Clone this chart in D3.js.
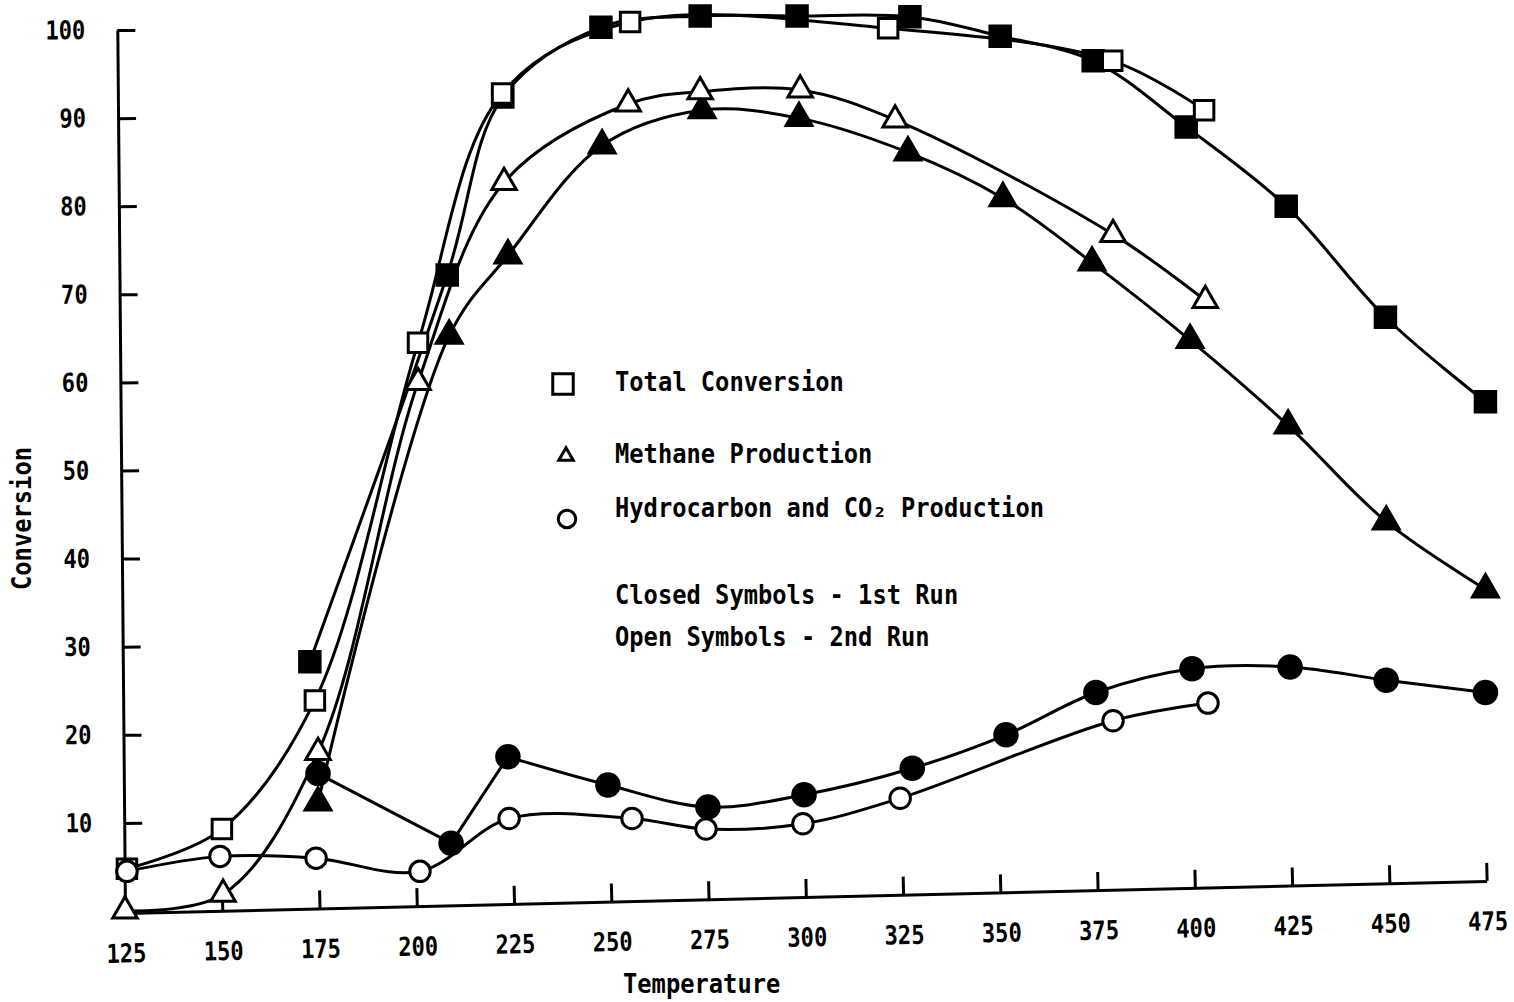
<!DOCTYPE html>
<html>
<head>
<meta charset="utf-8">
<script src="https://cdn.jsdelivr.net/npm/d3@7"></script>
<style>
	body { margin: 0; background: #fff; }
	text { font-family: "DejaVu Sans Mono", monospace; font-weight: bold; fill: #000; }
</style>
</head>
<body>
<div id="chart"></div>
<script>
// [temperature, conversion] pairs
// closed symbols = 1st run, open symbols = 2nd run
const totalRun1 = [[172.5, 28.3], [207.8, 72.2], [222.1, 92.4], [247.3, 100.3], [272.8, 101.6], [297.7, 101.6], [326.7, 101.5], [349.9, 99.3], [373.8, 96.5], [397.7, 89.0], [423.4, 80.0], [448.9, 67.4], [474.6, 57.8]];
const totalRun2 = [[125.5, 4.8], [149.9, 9.3], [173.8, 23.9], [200.3, 64.5], [221.9, 92.8], [254.8, 100.9], [321.1, 100.2], [378.7, 96.5], [402.3, 90.9]];
const methaneRun1 = [[174.6, 12.3], [208.3, 65.3], [223.4, 74.4], [247.6, 86.9], [273.3, 90.9], [298.2, 90.0], [326.2, 86.1], [350.6, 80.9], [373.5, 73.6], [398.7, 64.8], [423.9, 55.1], [449.1, 44.2], [474.6, 36.5]];
const methaneRun2 = [[125.0, 0.0], [150.2, 1.9], [174.6, 18.0], [200.3, 60.0], [222.4, 82.7], [254.3, 91.6], [272.8, 93.0], [298.5, 93.2], [322.9, 89.8], [378.9, 76.8], [402.6, 69.3]];
const hcRun1 = [[174.6, 15.6], [208.8, 7.7], [223.4, 17.5], [249.1, 14.3], [274.8, 11.8], [299.5, 13.2], [327.3, 16.2], [351.4, 20.0], [374.5, 24.8], [399.2, 27.5], [424.4, 27.7], [449.1, 26.2], [474.6, 24.8]];
const hcRun2 = [[125.5, 4.5], [149.4, 6.2], [174.1, 6.0], [200.8, 4.5], [223.7, 10.5], [255.3, 10.5], [274.3, 9.3], [299.2, 9.9], [324.2, 12.8], [378.9, 21.6], [403.3, 23.6]];

const xTicks = [125, 150, 175, 200, 225, 250, 275, 300, 325, 350, 375, 400, 425, 450, 475];
const yTicks = [10, 20, 30, 40, 50, 60, 70, 80, 90, 100];

const legendNames = ["Total Conversion", "Methane Production", "Hydrocarbon and CO\u2082 Production"];
const runNotes = ["Closed Symbols - 1st Run", "Open Symbols - 2nd Run"];

const width = 1514, height = 1002;

const svg = d3.select("#chart")
	.append("svg")
	.attr("width", width)
	.attr("height", height);

const x = d3.scaleLinear().domain([125, 475]).range([125, 1487]);
const y = d3.scaleLinear().domain([0, 100]).range([911, 30]);

// tall narrow typewriter look: big font squeezed to a fixed pitch
function label(g, str, px, py, size, pitch) {
	return g.append("text")
		.attr("x", px)
		.attr("y", py)
		.attr("font-size", size)
		.attr("textLength", str.length * pitch)
		.attr("lengthAdjust", "spacingAndGlyphs")
		.text(str);
}

// y axis (the original is drawn by hand, a little off vertical)
const gy = svg.append("g")
	.attr("transform", "translate(125,0) rotate(-0.5, 0, 912)")
	.call(d3.axisLeft(y).tickValues(yTicks).tickSizeInner(-18).tickSizeOuter(0).tickPadding(32));

// x axis, also slightly tilted in the scan
const gx = svg.append("g")
	.attr("transform", "translate(0,913) rotate(-1.35, 125, 0)")
	.call(d3.axisBottom(x).tickValues(xTicks).tickSizeInner(-18).tickSizeOuter(0).tickPadding(31));

[gx, gy].forEach((g) => {
	g.attr("font-family", null).attr("font-size", null);
	g.select(".domain").attr("stroke", "#000").attr("stroke-width", 3);
	g.selectAll(".tick line").attr("stroke", "#000").attr("stroke-width", 3);
	g.selectAll(".tick text")
		.attr("font-size", 26)
		.attr("textLength", (d) => String(d).length * 13.3)
		.attr("lengthAdjust", "spacingAndGlyphs");
});

// axis titles
label(svg, "Temperature", 623, 993, 26, 14.3);
label(svg.append("g").attr("transform", "translate(31,590) rotate(-90)"), "Conversion", 0, 0, 26, 14.3);

// straight: number of leading segments drawn as straight lines
const series = [
	{ data: totalRun1, symbol: d3.symbolSquare, size: 420, filled: true, straight: 0 },
	{ data: totalRun2, symbol: d3.symbolSquare, size: 380, filled: false, straight: 0 },
	{ data: methaneRun1, symbol: d3.symbolTriangle, size: 290, filled: true, straight: 0 },
	{ data: methaneRun2, symbol: d3.symbolTriangle, size: 260, filled: false, straight: 0 },
	{ data: hcRun1, symbol: d3.symbolCircle, size: 400, filled: true, straight: 2 },
	{ data: hcRun2, symbol: d3.symbolCircle, size: 330, filled: false, straight: 0 },
];

const line = d3.line()
	.x(([t]) => x(t))
	.y(([_, v]) => y(v))
	.curve(d3.curveCatmullRom.alpha(0.5));
const straightLine = d3.line()
	.x(([t]) => x(t))
	.y(([_, v]) => y(v));

function seriesPath(s) {
	if (!s.straight) return line(s.data);
	return straightLine(s.data.slice(0, s.straight + 1)) + line(s.data.slice(s.straight));
}

// lines first so the open symbols sit on top of them
const groupLines = svg.append("g").attr("class", "lines");
groupLines.selectAll("path")
	.data(series)
	.join("path")
	.attr("fill", "none")
	.attr("stroke", "#000")
	.attr("stroke-width", 3)
	.attr("stroke-linejoin", "round")
	.attr("d", seriesPath);

const groupMarks = svg.append("g").attr("class", "marks");
series.forEach((s) => {
	groupMarks.append("g")
		.selectAll("path")
		.data(s.data)
		.join("path")
		.attr("transform", ([t, v]) => `translate(${x(t)},${y(v)})`)
		.attr("d", d3.symbol().type(s.symbol).size(s.size))
		.attr("fill", s.filled ? "#000" : "#fff")
		.attr("stroke", "#000")
		.attr("stroke-width", 3);
});

// legend
const legend = svg.append("g").attr("class", "legend");
const legendSymbols = [
	{ symbol: d3.symbolSquare, size: 420, cx: 563, cy: 384 },
	{ symbol: d3.symbolTriangle, size: 90, cx: 566, cy: 456 },
	{ symbol: d3.symbolCircle, size: 240, cx: 567, cy: 519 },
];
legend.selectAll("path")
	.data(legendSymbols)
	.join("path")
	.attr("transform", (d) => `translate(${d.cx},${d.cy})`)
	.attr("d", (d) => d3.symbol().type(d.symbol).size(d.size)())
	.attr("fill", "#fff")
	.attr("stroke", "#000")
	.attr("stroke-width", 3);

const pitch = 14.3;
label(legend, legendNames[0], 615, 391, 26, pitch);
label(legend, legendNames[1], 615, 463, 26, pitch);
label(legend, legendNames[2], 615, 517, 26, pitch);
label(legend, runNotes[0], 615, 604, 26, pitch);
label(legend, runNotes[1], 615, 646, 26, pitch);
</script>
</body>
</html>
